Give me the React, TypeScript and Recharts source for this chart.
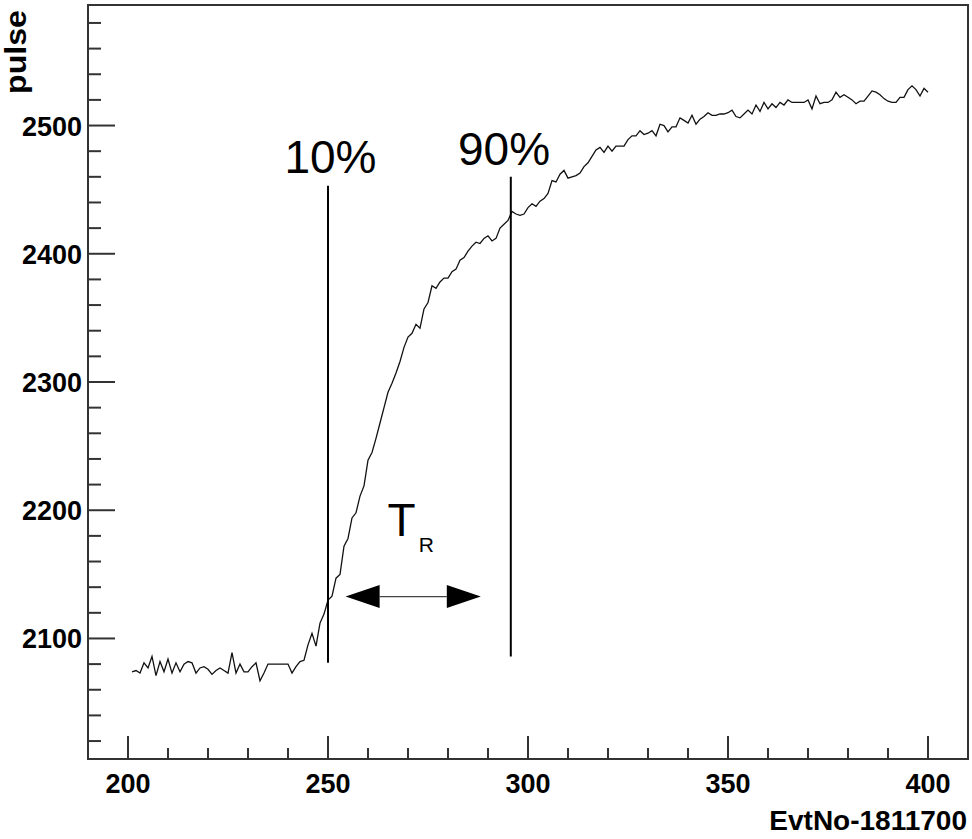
import {
  Line,
  LineChart,
  ReferenceArea,
  ReferenceDot,
  ReferenceLine,
  XAxis,
  YAxis,
} from "recharts";

// event number of the first sample
const startEvent = 201;

// flat part before the rise (201..243)
const baseline = [
  2074, 2075, 2073, 2081, 2077, 2086, 2071, 2082, 2074, 2084,
  2073, 2081, 2074, 2080, 2082, 2081, 2073, 2077, 2078, 2076,
  2072, 2075, 2077, 2075, 2073, 2089, 2073, 2080, 2074, 2074,
  2078, 2081, 2067, 2073, 2080, 2080, 2080, 2080, 2080, 2080,
  2073, 2078, 2082,
];

// leading edge (244..300)
const leadingEdge = [
  2083, 2095, 2104, 2094, 2112, 2119, 2130, 2133, 2147, 2150,
  2172, 2178, 2194, 2198, 2211, 2219, 2239, 2245, 2256, 2268,
  2280, 2292, 2299, 2307, 2316, 2327, 2335, 2338, 2345, 2342,
  2357, 2362, 2375, 2373, 2378, 2381, 2381, 2386, 2388, 2395,
  2397, 2402, 2406, 2409, 2408, 2412, 2414, 2410, 2412, 2420,
  2423, 2426, 2433, 2431, 2430, 2431, 2436,
];

// slow tail (301..400)
const tail = [
  2439, 2437, 2441, 2443, 2447, 2457, 2456, 2462, 2465, 2459,
  2460, 2461, 2463, 2468, 2471, 2476, 2481, 2483, 2479, 2484,
  2480, 2484, 2484, 2484, 2489, 2492, 2492, 2496, 2493, 2494,
  2496, 2492, 2501, 2500, 2495, 2499, 2499, 2506, 2504, 2502,
  2508, 2501, 2505, 2507, 2510, 2508, 2508, 2509, 2509, 2510,
  2512, 2507, 2506, 2509, 2512, 2509, 2516, 2511, 2518, 2513,
  2517, 2514, 2518, 2516, 2520, 2518, 2518, 2518, 2518, 2520,
  2513, 2523, 2517, 2518, 2518, 2520, 2526, 2522, 2524, 2522,
  2520, 2517, 2519, 2519, 2523, 2527, 2526, 2524, 2521, 2519,
  2518, 2518, 2522, 2522, 2528, 2531, 2528, 2523, 2529, 2526,
];

const xTicks = [
  200, 210, 220, 230, 240, 250, 260, 270, 280, 290, 300,
  310, 320, 330, 340, 350, 360, 370, 380, 390, 400,
];
const yTicks = [
  2020, 2040, 2060, 2080, 2100, 2120, 2140, 2160, 2180, 2200,
  2220, 2240, 2260, 2280, 2300, 2320, 2340, 2360, 2380, 2400,
  2420, 2440, 2460, 2480, 2500, 2520, 2540, 2560, 2580,
];

const xDomain: [number, number] = [190, 410];
const yDomain: [number, number] = [2006, 2594];

// annotation positions, in data units
const tenPct = { x: 250, y1: 2081, y2: 2453, labelX: 239.1, labelY: 2462.6 };
const ninetyPct = { x: 295.7, y1: 2086, y2: 2460, labelX: 282.5, labelY: 2469 };
const arrow = { x1: 254.4, x2: 288.2, y: 2132.7 };
const riseLabel = { x: 264.9, y: 2180 };

const data = [...baseline, ...leadingEdge, ...tail].map((pulse, i) => ({
  evt: startEvent + i,
  pulse,
}));

const FONT = "'Liberation Sans', Arial, Helvetica, sans-serif";
const FRAME = "#333";

function XTick(props: any) {
  const { x, y, payload } = props;
  const major = payload.value % 50 === 0;
  return (
    <g>
      <line x1={x} x2={x} y1={y} y2={y - (major ? 23 : 11)} stroke={FRAME} strokeWidth={2} />
      {major && (
        <text x={x} y={y + 34} textAnchor="middle" fontFamily={FONT} fontWeight="bold" fontSize={27} fill="#000">
          {payload.value}
        </text>
      )}
    </g>
  );
}

function YTick(props: any) {
  const { x, y, payload } = props;
  const major = payload.value % 100 === 0;
  return (
    <g>
      <line x1={x} x2={x + (major ? 27 : 13)} y1={y} y2={y} stroke={FRAME} strokeWidth={2} />
      {major && (
        <text x={x - 6} y={y + 10} textAnchor="end" fontFamily={FONT} fontWeight="bold" fontSize={27} fill="#000">
          {payload.value}
        </text>
      )}
    </g>
  );
}

function ArrowShape(props: any) {
  const { x1, x2, y1 } = props;
  const head = 34;
  const half = 11.5;
  return (
    <g>
      <line x1={x1 + head} x2={x2 - head} y1={y1} y2={y1} stroke="#444" strokeWidth={1.2} />
      <polygon points={`${x1},${y1} ${x1 + head},${y1 - half} ${x1 + head},${y1 + half}`} fill="#000" />
      <polygon points={`${x2},${y1} ${x2 - head},${y1 - half} ${x2 - head},${y1 + half}`} fill="#000" />
    </g>
  );
}

function bigText(label: string) {
  return (p: any) => (
    <text x={p.cx} y={p.cy} fontFamily={FONT} fontSize={46} fill="#000">
      {label}
    </text>
  );
}

function riseText(p: any) {
  return (
    <text x={p.cx} y={p.cy} fontFamily={FONT} fontSize={46} fill="#000">
      T
      <tspan dx={3} dy={16} fontSize={21}>
        R
      </tspan>
    </text>
  );
}

export default function App() {
  return (
    <div style={{ position: "absolute", left: 0, top: 0, width: 972, height: 839, background: "#fff" }}>
      <LineChart width={972} height={839} data={data} margin={{ top: 5, right: 4, bottom: 0, left: 0 }}>
        <XAxis
          dataKey="evt"
          type="number"
          domain={xDomain}
          allowDataOverflow
          ticks={xTicks}
          interval={0}
          tickSize={0}
          tickMargin={0}
          axisLine={false}
          tickLine={false}
          height={80}
          tick={<XTick />}
          label={{
            content: (p: any) => {
              const vb = p.viewBox;
              return (
                <text x={vb.x + vb.width - 1} y={vb.y + 71} textAnchor="end" fontFamily={FONT} fontWeight="bold" fontSize={28} fill="#000">
                  EvtNo-1811700
                </text>
              );
            },
          }}
        />
        <YAxis
          type="number"
          domain={yDomain}
          allowDataOverflow
          ticks={yTicks}
          interval={0}
          tickSize={0}
          tickMargin={0}
          axisLine={false}
          tickLine={false}
          width={88}
          tick={<YTick />}
          label={{
            content: (p: any) => {
              const vb = p.viewBox;
              const lx = vb.x + 26;
              const ly = vb.y + 5;
              return (
                <text
                  x={lx}
                  y={ly}
                  transform={`rotate(-90 ${lx} ${ly})`}
                  textAnchor="end"
                  textLength={84}
                  lengthAdjust="spacingAndGlyphs"
                  fontFamily={FONT}
                  fontWeight="bold"
                  fontSize={29}
                  fill="#000"
                >
                  pulse
                </text>
              );
            },
          }}
        />
        <ReferenceArea x1={xDomain[0]} x2={xDomain[1]} y1={yDomain[0]} y2={yDomain[1]} fill="none" stroke={FRAME} strokeWidth={2} ifOverflow="visible" />
        <Line type="linear" dataKey="pulse" stroke="#111" strokeWidth={1.3} dot={false} isAnimationActive={false} />
        <ReferenceLine segment={[{ x: tenPct.x, y: tenPct.y1 }, { x: tenPct.x, y: tenPct.y2 }]} stroke="#000" strokeWidth={2} />
        <ReferenceLine segment={[{ x: ninetyPct.x, y: ninetyPct.y1 }, { x: ninetyPct.x, y: ninetyPct.y2 }]} stroke="#000" strokeWidth={2} />
        <ReferenceLine segment={[{ x: arrow.x1, y: arrow.y }, { x: arrow.x2, y: arrow.y }]} shape={ArrowShape} />
        <ReferenceDot x={tenPct.labelX} y={tenPct.labelY} shape={bigText("10%")} />
        <ReferenceDot x={ninetyPct.labelX} y={ninetyPct.labelY} shape={bigText("90%")} />
        <ReferenceDot x={riseLabel.x} y={riseLabel.y} shape={riseText} />
      </LineChart>
    </div>
  );
}
